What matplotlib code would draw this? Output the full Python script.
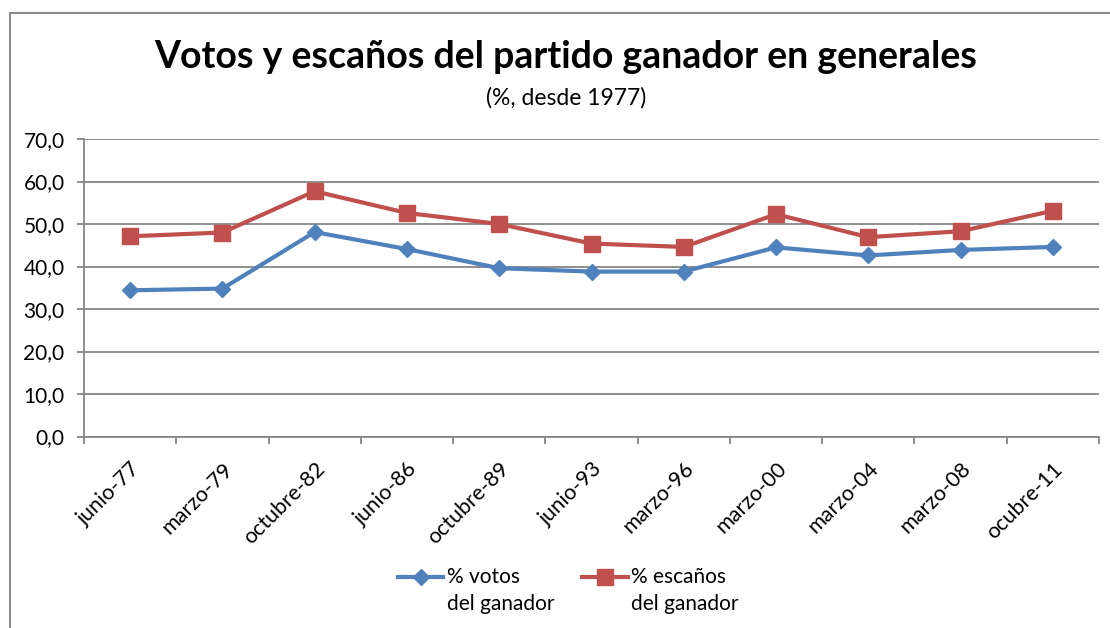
import matplotlib
matplotlib.use("Agg")
import matplotlib.pyplot as plt
from matplotlib.patches import Rectangle
from matplotlib.lines import Line2D

plt.rcParams['font.family'] = ['Lato', 'DejaVu Sans']

categories = ["junio-77", "marzo-79", "octubre-82", "junio-86", "octubre-89",
              "junio-93", "marzo-96", "marzo-00", "marzo-04", "marzo-08", "ocubre-11"]
votos = [34.4, 34.8, 48.1, 44.1, 39.6, 38.8, 38.8, 44.5, 42.6, 43.9, 44.6]
escanos = [47.1, 48.0, 57.7, 52.6, 50.0, 45.4, 44.6, 52.3, 46.9, 48.3, 53.1]
yticks = [0, 10, 20, 30, 40, 50, 60, 70]
ytick_labels = ["0,0", "10,0", "20,0", "30,0", "40,0", "50,0", "60,0", "70,0"]
series_labels = [("% votos", "del ganador"), ("% escaños", "del ganador")]

W, H = 1110, 628
fig = plt.figure(figsize=(W / 100, H / 100), dpi=100)
fig.patch.set_facecolor("white")

# outer chart frame (extends past right/bottom edges)
fig.patches.append(Rectangle((10 / W, -0.1), 1.2, 1 - 13 / H + 0.1,
                             transform=fig.transFigure, fill=False,
                             edgecolor="#8c8c8c", linewidth=1.5))

ax = fig.add_axes([84 / W, 1 - 436.5 / H, (1099 - 84) / W, (436.5 - 139) / H])
x = list(range(len(categories)))
gray = "#868686"
blue = "#4F81BD"
red = "#C0504D"

style_v = dict(color=blue, linewidth=3, marker="D", markersize=8.5)
style_e = dict(color=red, linewidth=3, marker="s", markersize=11.5)
ax.plot(x, votos, zorder=3, **style_v)
ax.plot(x, escanos, zorder=3, **style_e)

ax.set_xlim(-0.5, len(categories) - 0.5)
ax.set_ylim(0, 70)
ax.set_yticks(yticks)
ax.set_yticklabels(ytick_labels, fontsize=15)
ax.yaxis.grid(True, color=gray, linewidth=1.3)
ax.set_axisbelow(True)

ax.set_xticks(x)
ax.set_xticklabels(categories, rotation=45, ha="right", rotation_mode="anchor",
                   fontsize=15.5)
ax.tick_params(axis="x", which="major", length=0, pad=16)
ax.set_xticks([i - 0.5 for i in range(len(categories) + 1)], minor=True)
ax.tick_params(axis="x", which="minor", length=5, color=gray, width=1.3)
ax.tick_params(axis="y", length=5, color=gray, width=1.3, pad=9)

for s in ["top", "right"]:
    ax.spines[s].set_visible(False)
for s in ["left", "bottom"]:
    ax.spines[s].set_color(gray)
    ax.spines[s].set_linewidth(1.3)

fig.text(566 / W, 1 - 57 / H, "Votos y escaños del partido ganador en generales",
         ha="center", va="center", fontsize=27, fontweight="bold")
fig.text(566 / W, 1 - 98 / H, "(%, desde 1977)", ha="center", va="center", fontsize=16.5)

# legend drawn manually (handle aligned to first text line, as in the original)
leg_y = 1 - 577 / H
leg_y2 = 1 - 604 / H
for (x0, x1, xt), style, (l1, l2) in zip([(398, 443, 447), (582, 628, 631)],
                                         [style_v, style_e], series_labels):
    fig.lines.append(Line2D([x0 / W, x1 / W], [leg_y, leg_y], transform=fig.transFigure,
                            color=style["color"], linewidth=style["linewidth"]))
    fig.lines.append(Line2D([(x0 + x1) / 2 / W], [leg_y], transform=fig.transFigure,
                            color=style["color"], marker=style["marker"],
                            markersize=style["markersize"], linestyle="none"))
    fig.text(xt / W, leg_y, l1, ha="left", va="center", fontsize=15)
    fig.text(xt / W, leg_y2, l2, ha="left", va="center", fontsize=15)

fig.savefig("out.png", dpi=100, facecolor="white")
